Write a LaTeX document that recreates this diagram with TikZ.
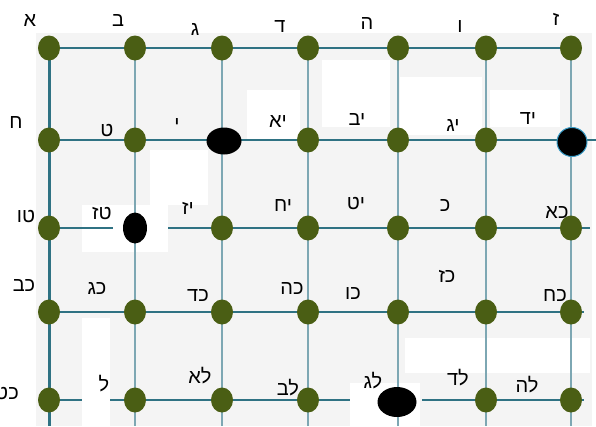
\documentclass[tikz,border=0pt]{standalone}
\usepackage{fontspec}
\setmainfont{Liberation Sans}
\newfontfamily\hebfont[Script=Hebrew]{Liberation Sans}
\TeXXeTstate=1
\usepackage{xcolor}
\usepackage{tikz}
\usetikzlibrary{shapes.geometric}

\definecolor{dotgreen}{HTML}{4A5E14}
\definecolor{gridteal}{HTML}{2F7283}
\definecolor{gridpale}{HTML}{7DA7B3}
\definecolor{paper}{HTML}{F4F4F4}

\tikzset{
  gdot/.style={ellipse, fill=dotgreen, inner sep=0pt, minimum width=22pt, minimum height=25pt},
  kdot/.style={ellipse, fill=black, inner sep=0pt},
  rowline/.style={gridteal, line width=2.8pt},
  colline/.style={gridpale, line width=2pt},
  lbl/.style={font=\hebfont\fontsize{20}{20}\selectfont, inner sep=0pt, text height=13.5pt, text depth=0pt},
}

\begin{document}
\begin{tikzpicture}[x=1pt,y=-1pt]
		\useasboundingbox (0,0) rectangle (596,426);

		% paper and patches
		\fill[paper] (36,33) rectangle (592,426);
		\fill[white] (150,150) rectangle (208,205);
		\fill[white] (82,205) rectangle (168,252);
		\fill[white] (247,90) rectangle (300,140);
		\fill[white] (322,60) rectangle (390,127);
		\fill[white] (400,77) rectangle (482,135);
		\fill[white] (490,90) rectangle (560,127);
		\fill[white] (82,318) rectangle (110,426);
		\fill[white] (405,338) rectangle (590,373);
		\fill[white] (350,383) rectangle (420,426);

		% grid points
		\foreach \c/\x in {1/49,2/135,3/222,4/308,5/398,6/486,7/571}{
			\foreach \r/\y in {1/48,2/140,3/228,4/312,5/400}
				\coordinate (p\r\c) at (\x,\y);
			\coordinate (b\c) at (\x,426);
		}
		\coordinate (e1) at (575,48);
		\coordinate (e2) at (596,140);
		\coordinate (e3) at (590,228);
		\coordinate (e4) at (584,312);
		\coordinate (e5) at (584,400);
		\coordinate (g3a) at (113,228);
		\coordinate (g3b) at (168,228);
		\coordinate (g5a) at (82,400);
		\coordinate (g5b) at (110,400);
		\coordinate (g5c) at (350,400);
		\coordinate (g5d) at (422,400);

		% columns
		\foreach \c in {2,...,7}
			\draw[colline] (p1\c) -- (b\c);
		\draw[gridteal, line width=3pt] (p11) -- (b1);

		% rows
		\draw[rowline] (p11) -- (e1);
		\draw[rowline] (p21) -- (e2);
		\draw[rowline] (p31) -- (g3a);
		\draw[rowline] (g3b) -- (e3);
		\draw[rowline] (p41) -- (e4);
		\draw[rowline] (p51) -- (g5a);
		\draw[rowline] (g5b) -- (g5c);
		\draw[rowline] (g5d) -- (e5);

		% green dots
		\foreach \c in {1,...,7} \node[gdot] (d1\c) at (p1\c) {};
		\foreach \c in {1,2,4,5,6} \node[gdot] (d2\c) at (p2\c) {};
		\foreach \c in {1,3,4,5,6,7} \node[gdot] (d3\c) at (p3\c) {};
		\foreach \c in {1,...,7} \node[gdot] (d4\c) at (p4\c) {};
		\foreach \c in {1,2,3,4,6,7} \node[gdot] (d5\c) at (p5\c) {};

		% black dots
		\node[kdot, minimum width=35pt, minimum height=27pt] (k23) at (224,141) {};
		\node[kdot, minimum width=30pt, minimum height=29pt, draw=cyan!60!gridteal, line width=1pt] (k27) at (572,142) {};
		\node[kdot, minimum width=24pt, minimum height=31pt] (k32) at (135,228) {};
		\node[kdot, minimum width=39pt, minimum height=30pt] (k55) at (397,402) {};

		% numbers
		\foreach \n/\t/\x/\y in {1/א/30/20, 2/ב/118/20, 3/ג/195/29, 4/ד/280/26, 5/ה/367/23, 6/ו/460/26, 7/ז/556/19,
				8/ח/16/122, 9/ט/107/130, 10/י/177/124, 11/יא/278/121, 12/יב/357/119, 13/יג/453/125, 14/יד/528/118,
				15/טו/26/216, 16/טז/102/213, 17/יז/188/208, 18/יח/283/205, 19/יט/356/203, 20/כ/445/205, 21/כא/557/212,
				22/כב/24/285, 23/כג/97/288, 24/כד/198/295, 25/כה/292/288, 26/כו/353/293, 27/כז/447/276, 28/כח/555/295,
				29/כט/7/393, 30/ל/104/385, 31/לא/200/377, 32/לב/288/389, 33/לג/373/382, 34/לד/458/379, 35/לה/527/386}
			\node[lbl] (t\n) at (\x,\y) {\beginR\t\endR};
	\end{tikzpicture}
\end{document}
